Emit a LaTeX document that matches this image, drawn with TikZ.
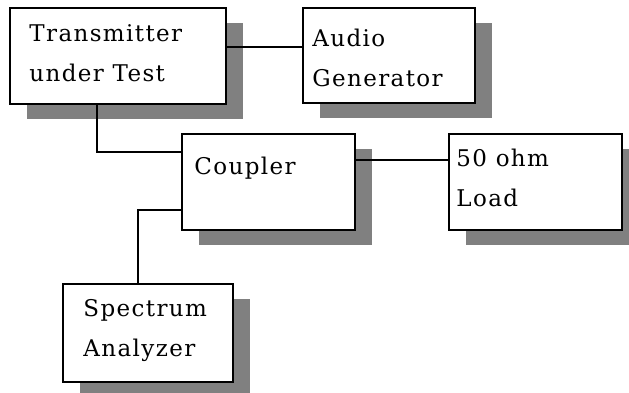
\documentclass[tikz,border=0pt]{standalone}
\usepackage{fontspec}
\setmainfont{DejaVu Serif}[LetterSpace=6]
\usetikzlibrary{shadows}
\definecolor{shadegray}{RGB}{128,128,128}
\tikzset{
  blok/.style={draw=black, line width=1.5pt, fill=white, inner sep=0pt,
    drop shadow={shadow xshift=17pt, shadow yshift=-15pt, opacity=1, fill=shadegray}},
  txt/.style={inner sep=0pt, align=left, font=\fontsize{23}{40}\selectfont},
  wire/.style={line width=1.5pt}
}
\begin{document}
\begin{tikzpicture}[x=1pt, y=-1pt]
\useasboundingbox[fill=white] (0, 0) rectangle (629, 393);
% boxes
\node[blok, minimum width=216pt, minimum height=96pt] (tx) at (118, 56) {};
\node[blok, minimum width=172pt, minimum height=95pt] (ag) at (389, 55.5) {};
\node[blok, minimum width=173pt, minimum height=96pt] (cp) at (268.5, 182) {};
\node[blok, minimum width=173pt, minimum height=96pt] (ld) at (535.5, 182) {};
\node[blok, minimum width=170pt, minimum height=98pt] (sa) at (148, 333) {};
% labels (base = last line)
\node[txt, anchor=base west] (txlbl) at ([shift={(20,74)}]tx.north west) {Transmitter\\under Test};
\node[txt, anchor=base west] (aglbl) at ([shift={(10,79)}]ag.north west) {Audio\\Generator};
\node[txt, anchor=base west] (cplbl) at ([shift={(13,41)}]cp.north west) {Coupler};
\node[txt, anchor=base west] (ldlbl) at ([shift={(8,73)}]ld.north west) {50 ohm\\Load};
\node[txt, anchor=base west] (salbl) at ([shift={(21,73)}]sa.north west) {Spectrum\\Analyzer};
% wires
\draw[wire] ([yshift=9pt]tx.east) -- ([yshift=9pt]tx.east -| ag.west);
\draw[wire] ([xshift=-21pt]tx.south) |- ([yshift=30pt]cp.west);
\draw[wire] ([yshift=22pt]cp.east) -- ([yshift=22pt]cp.east -| ld.west);
\draw[wire] ([yshift=-28pt]cp.west) -| ([xshift=-10pt]sa.north);
\end{tikzpicture}
\end{document}
